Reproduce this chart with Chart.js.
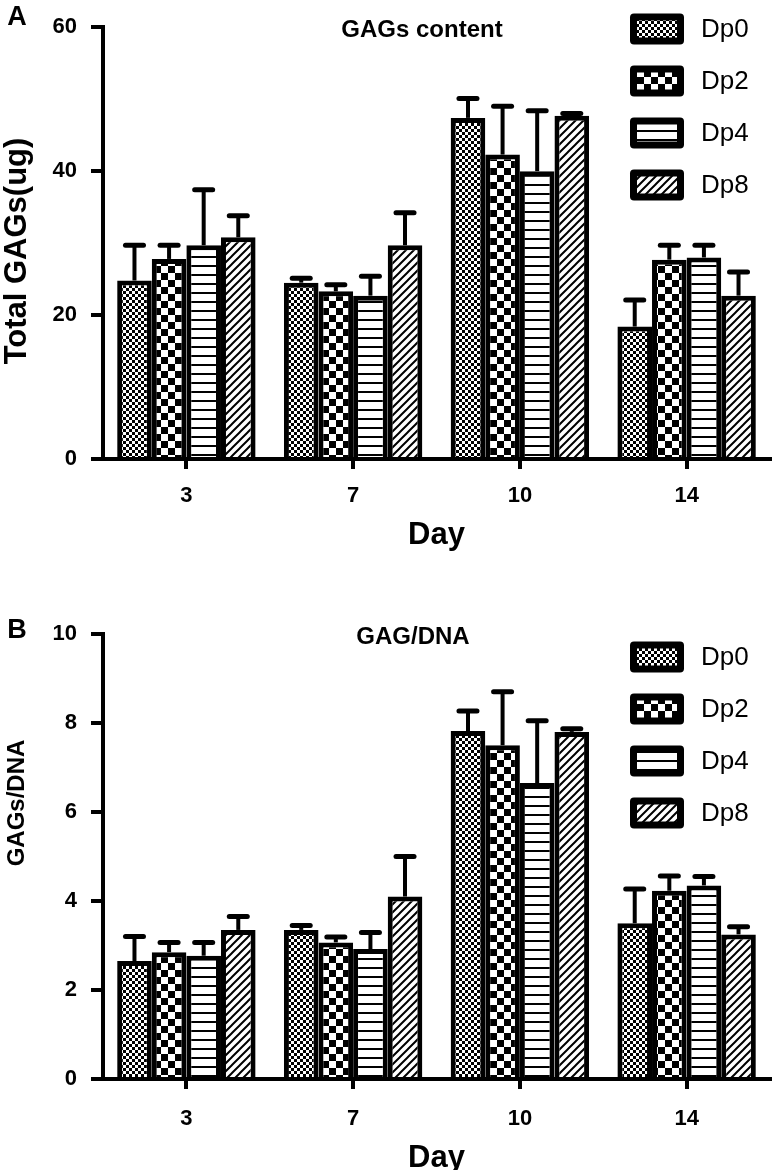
<!DOCTYPE html>
<html>
<head>
<meta charset="utf-8">
<script src="https://cdn.jsdelivr.net/npm/chart.js@4.4.1/dist/chart.umd.min.js"></script>
<style>
    html, body { margin: 0; padding: 0; background: #fff; }
    #lienzo { position: relative; width: 776px; height: 1170px; overflow: hidden; }
    canvas { position: absolute; left: 0; }
    #graficoA { top: 0; }
    #graficoB { top: 585px; }
</style>
</head>
<body>
<div id="lienzo">
    <canvas id="graficoA" width="776" height="585"></canvas>
    <canvas id="graficoB" width="776" height="585"></canvas>
</div>
<script>
/* --------------- datos --------------- */

const dias = ['3', '7', '10', '14'];
const grupos = ['Dp0', 'Dp2', 'Dp4', 'Dp8'];

// A - GAGs content (ug)
const gagDp0 = [24.8, 24.5, 47.4, 18.4];
const gagDp2 = [27.8, 23.3, 42.3, 27.7];
const gagDp4 = [29.7, 22.7, 40.0, 28.0];
const gagDp8 = [30.8, 29.7, 47.7, 22.7];
const gagErrDp0 = [4.9, 0.6, 2.7, 3.7];
const gagErrDp2 = [1.9, 0.9, 6.7, 2.0];
const gagErrDp4 = [7.7, 2.7, 8.4, 1.7];
const gagErrDp8 = [3.0, 4.5, 0.3, 3.3];
const ticksA = [0, 20, 40, 60];

// B - GAG/DNA
const dnaDp0 = [2.65, 3.35, 7.82, 3.50];
const dnaDp2 = [2.85, 3.07, 7.50, 4.23];
const dnaDp4 = [2.77, 2.92, 6.65, 4.35];
const dnaDp8 = [3.35, 4.10, 7.80, 3.25];
const dnaErrDp0 = [0.55, 0.10, 0.45, 0.77];
const dnaErrDp2 = [0.22, 0.12, 1.20, 0.33];
const dnaErrDp4 = [0.30, 0.37, 1.40, 0.20];
const dnaErrDp8 = [0.30, 0.90, 0.07, 0.17];
const ticksB = [0, 2, 4, 6, 8, 10];

/* --------------- tramas --------------- */

const FUENTE = "'Liberation Sans', Arial, sans-serif";

function trama(lado, dibujo) {
    const c = document.createElement('canvas');
    c.width = lado;
    c.height = lado;
    const g = c.getContext('2d');
    g.fillStyle = '#fff';
    g.fillRect(0, 0, lado, lado);
    g.fillStyle = '#000';
    g.strokeStyle = '#000';
    dibujo(g, lado);
    return document.getElementById('graficoA').getContext('2d').createPattern(c, 'repeat');
}

const tramas = [
    trama(6, (g) => { g.fillRect(0, 0, 3, 3); g.fillRect(3, 3, 3, 3); }),
    trama(14, (g) => { g.fillRect(0, 0, 7, 7); g.fillRect(7, 7, 7, 7); }),
    trama(9, (g) => { g.fillRect(0, 4, 9, 2); }),
    trama(8, (g, l) => {
        g.lineWidth = 2;
        g.beginPath();
        g.moveTo(-1, l + 1); g.lineTo(l + 1, -1);
        g.moveTo(-1, 1); g.lineTo(1, -1);
        g.moveTo(l - 1, l + 1); g.lineTo(l + 1, l - 1);
        g.stroke();
    })
];

/* --------------- plugin: barras de error, titulos, leyenda --------------- */

const decoracion = {
    id: 'decoracion',
    afterDatasetsDraw(chart) {
        const ctx = chart.ctx;
        const y = chart.scales.y;
        ctx.save();
        ctx.strokeStyle = '#000';
        chart.data.datasets.forEach((ds, i) => {
            chart.getDatasetMeta(i).data.forEach((barra, j) => {
                const tope = y.getPixelForValue(ds.data[j] + ds.errores[j]);
                ctx.lineCap = 'butt';
                ctx.lineWidth = 4;
                ctx.beginPath();
                ctx.moveTo(barra.x, barra.y);
                ctx.lineTo(barra.x, tope);
                ctx.stroke();
                ctx.lineCap = 'round';
                ctx.lineWidth = 5;
                ctx.beginPath();
                ctx.moveTo(barra.x - 9, tope);
                ctx.lineTo(barra.x + 9, tope);
                ctx.stroke();
            });
        });
        ctx.restore();
    },
    afterDraw(chart, args, opts) {
        const ctx = chart.ctx;
        ctx.save();
        ctx.fillStyle = '#000';
        ctx.textBaseline = 'middle';

        ctx.textAlign = 'center';
        ctx.font = `bold 27px ${FUENTE}`;
        ctx.fillText(opts.letra, 17, opts.letraY);
        ctx.font = `bold 24px ${FUENTE}`;
        ctx.fillText(opts.titulo, opts.tituloX, opts.tituloY);

        // titulo del eje y
        ctx.save();
        ctx.translate(17, opts.ejeY);
        ctx.rotate(-Math.PI / 2);
        ctx.font = `bold ${opts.ejeTam}px ${FUENTE}`;
        ctx.fillText(opts.ejeTexto, 0, 0);
        ctx.restore();

        ctx.textAlign = 'left';
        ctx.font = `26px ${FUENTE}`;
        chart.data.datasets.forEach((ds, i) => {
            const cy = opts.leyendaY + i * 52;
            ctx.fillStyle = '#000';
            ctx.beginPath();
            ctx.roundRect(630, cy - 15.5, 54, 31, 4);
            ctx.fill();
            ctx.fillStyle = ds.backgroundColor;
            ctx.fillRect(637, cy - 8.5, 40, 17);
            ctx.fillStyle = '#000';
            ctx.fillText(ds.label, 701, cy + 1);
        });
        ctx.restore();
    }
};

/* --------------- configuracion --------------- */

function series(valores, errores) {
    return valores.map((v, i) => ({
        label: grupos[i],
        data: v,
        errores: errores[i],
        backgroundColor: tramas[i],
        borderColor: '#000',
        borderWidth: 5,
        barPercentage: 1,
        categoryPercentage: 0.83
    }));
}

function opciones(c) {
    return {
        responsive: false,
        animation: false,
        events: [],
        layout: { padding: { top: c.arriba, right: 6, left: 0, bottom: 0 } },
        plugins: {
            legend: { display: false },
            tooltip: { enabled: false },
            decoracion: c.deco
        },
        scales: {
            x: {
                grid: { display: true, drawOnChartArea: false, offset: false, color: '#000', lineWidth: 4, tickLength: 10 },
                border: { display: true, color: '#000', width: 4 },
                ticks: { color: '#000', padding: c.padX, font: { family: FUENTE, size: 22, weight: 'bold' } },
                title: {
                    display: true, text: 'Day', color: '#000',
                    font: { family: FUENTE, size: 31, weight: 'bold', lineHeight: 1 },
                    padding: { top: 0, bottom: c.padDia }
                },
                afterFit: (s) => { s.height = c.altoX; }
            },
            y: {
                min: c.ticks[0],
                max: c.ticks[c.ticks.length - 1],
                afterBuildTicks: (s) => { s.ticks = c.ticks.map((v) => ({ value: v })); },
                grid: { display: true, drawOnChartArea: false, color: '#000', lineWidth: 4, tickLength: 12 },
                border: { display: true, color: '#000', width: 4 },
                ticks: { color: '#000', padding: 14, font: { family: FUENTE, size: 22, weight: 'bold' } },
                afterFit: (s) => { s.width = 103; }
            }
        }
    };
}

function grafico(id, datasets, config) {
    new Chart(document.getElementById(id), {
        type: 'bar',
        data: { labels: dias, datasets: datasets },
        options: opciones(config),
        plugins: [decoracion]
    });
}

grafico('graficoA',
    series([gagDp0, gagDp2, gagDp4, gagDp8], [gagErrDp0, gagErrDp2, gagErrDp4, gagErrDp8]),
    {
        arriba: 15, altoX: 126, padX: 14, padDia: 34, ticks: ticksA,
        deco: {
            letra: 'A', letraY: 18, titulo: 'GAGs content', tituloX: 422, tituloY: 30, leyendaY: 29,
            ejeTexto: 'Total GAGs(ug)', ejeTam: 31, ejeY: 251
        }
    });

grafico('graficoB',
    series([dnaDp0, dnaDp2, dnaDp4, dnaDp8], [dnaErrDp0, dnaErrDp2, dnaErrDp4, dnaErrDp8]),
    {
        arriba: 49, altoX: 91, padX: 17, padDia: -4, ticks: ticksB,
        deco: {
            letra: 'B', letraY: 46, titulo: 'GAG/DNA', tituloX: 413, tituloY: 52, leyendaY: 72,
            ejeTexto: 'GAGs/DNA', ejeTam: 24, ejeY: 218
        }
    });
</script>
</body>
</html>
